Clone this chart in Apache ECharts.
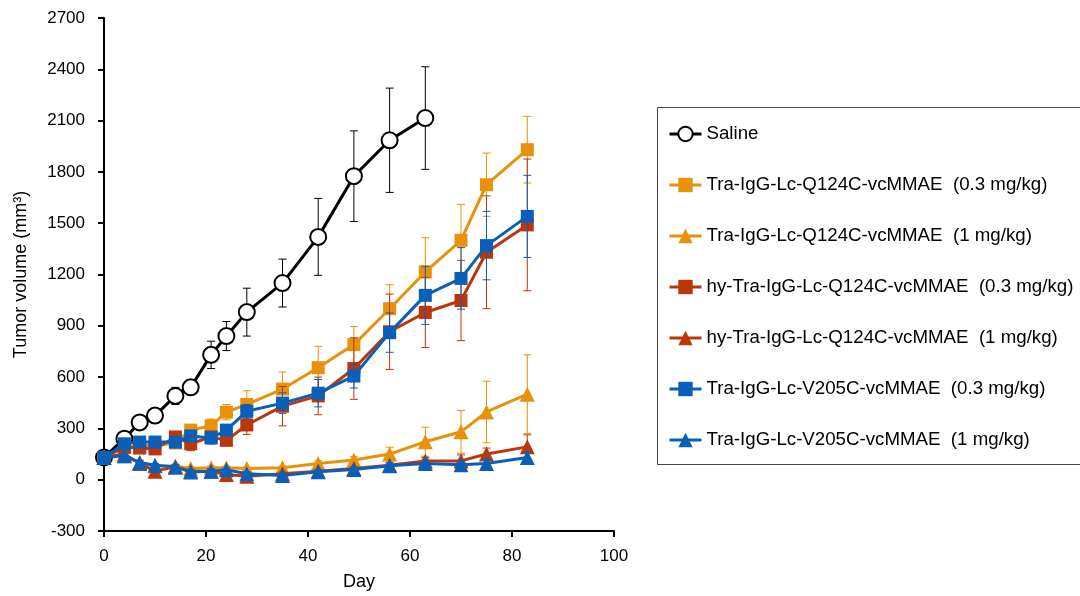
<!DOCTYPE html>
<html>
<head>
<meta charset="utf-8">
<script src="https://cdn.jsdelivr.net/npm/echarts@6/dist/echarts.min.js"></script>
<style>
  html, body { margin: 0; padding: 0; background: #fff; }
  #chart { width: 1080px; height: 596px; }
</style>
</head>
<body>
<div id="chart"></div>
<script>
// Measurement days
var days = [0, 4, 7, 10, 14, 17, 21, 24, 28, 35, 42, 49, 56, 63, 70, 75, 83];

// Mean tumor volume (mm³) and error per group
var saline      = [130, 240, 335, 375, 490, 540, 730, 840, 980, 1150, 1420, 1775, 1985, 2115];
var salineErr   = [15, 25, 20, 20, 50, 40, 80, 85, 140, 140, 225, 265, 305, 300];

var q124c03     = [130, 190, 200, 200, 215, 290, 315, 395, 440, 530, 655, 790, 1000, 1215, 1400, 1725, 1930];
var q124c03Err  = [10, 20, 20, 20, 30, 30, 40, 45, 80, 100, 125, 105, 140, 200, 210, 185, 195];

var q124c1      = [130, 140, 100, 80, 80, 65, 70, 70, 65, 70, 95, 115, 150, 222, 280, 396, 500];
var q124c1Err   = [10, 15, 15, 10, 10, 10, 10, 10, 10, 10, 15, 20, 40, 85, 125, 180, 230];

var hy03        = [130, 190, 185, 180, 250, 210, 250, 230, 320, 430, 490, 650, 865, 978, 1048, 1330, 1490];
var hy03Err     = [10, 25, 25, 25, 30, 40, 30, 30, 55, 115, 110, 180, 220, 205, 235, 330, 385];

var hy1         = [130, 150, 95, 50, 75, 50, 50, 30, 20, 35, 50, 65, 85, 110, 110, 150, 192];
var hy1Err      = [10, 15, 15, 20, 15, 10, 15, 15, 15, 10, 10, 10, 15, 20, 35, 35, 70];

var v205c03     = [130, 210, 220, 220, 220, 256, 244, 290, 400, 448, 506, 606, 860, 1078, 1177, 1369, 1540];
var v205c03Err  = [10, 20, 20, 20, 25, 30, 35, 30, 40, 60, 80, 70, 115, 170, 180, 200, 240];

var v205c1      = [130, 140, 100, 85, 75, 45, 50, 58, 35, 25, 47, 60, 82, 95, 88, 95, 130];
var v205c1Err   = [10, 10, 10, 10, 10, 10, 10, 10, 10, 10, 10, 10, 15, 25, 25, 25, 30];

var yTicks = { min: -300, max: 2700, interval: 300 };
var xTicks = { min: 0, max: 100, interval: 20 };

var ORANGE = '#E8910A';
var RED = '#BC360C';
var BLUE = '#0A60B8';
var FONT = 'Liberation Sans, Arial, sans-serif';

var groups = [
  { name: 'Saline', y: saline, err: salineErr, color: '#000', symbol: 'circle', size: 16, fill: '#fff' },
  { name: 'Tra-IgG-Lc-Q124C-vcMMAE  (0.3 mg/kg)', y: q124c03, err: q124c03Err, color: ORANGE, symbol: 'rect', size: 13 },
  { name: 'Tra-IgG-Lc-Q124C-vcMMAE  (1 mg/kg)', y: q124c1, err: q124c1Err, color: ORANGE, symbol: 'triangle', size: 15 },
  { name: 'hy-Tra-IgG-Lc-Q124C-vcMMAE  (0.3 mg/kg)', y: hy03, err: hy03Err, color: RED, symbol: 'rect', size: 13 },
  { name: 'hy-Tra-IgG-Lc-Q124C-vcMMAE  (1 mg/kg)', y: hy1, err: hy1Err, color: RED, symbol: 'triangle', size: 15 },
  { name: 'Tra-IgG-Lc-V205C-vcMMAE  (0.3 mg/kg)', y: v205c03, err: v205c03Err, color: BLUE, symbol: 'rect', size: 13 },
  { name: 'Tra-IgG-Lc-V205C-vcMMAE  (1 mg/kg)', y: v205c1, err: v205c1Err, color: BLUE, symbol: 'triangle', size: 15 }
];

// Vertical error bar with caps at mean ± error
function errorBarRenderer(color) {
  return function (params, api) {
    var x = api.value(0), y = api.value(1), e = api.value(2);
    var top = api.coord([x, y + e]);
    var bot = api.coord([x, y - e]);
    var cap = 4;
    var style = { stroke: color, lineWidth: 1 };
    return {
      type: 'group',
      children: [
        { type: 'line', shape: { x1: top[0], y1: top[1], x2: bot[0], y2: bot[1] }, style: style },
        { type: 'line', shape: { x1: top[0] - cap, y1: top[1], x2: top[0] + cap, y2: top[1] }, style: style },
        { type: 'line', shape: { x1: bot[0] - cap, y1: bot[1], x2: bot[0] + cap, y2: bot[1] }, style: style }
      ]
    };
  };
}

var series = [];
groups.forEach(function (g, i) {
  var pts = g.y.map(function (v, k) { return [days[k], v]; });
  var errPts = g.y.map(function (v, k) { return [days[k], v, g.err[k]]; });
  series.push({
    type: 'custom',
    name: g.name + ' err',
    renderItem: errorBarRenderer(g.color),
    data: errPts,
    z: 2 + i * 2,
    silent: true
  });
  series.push({
    type: 'line',
    name: g.name,
    data: pts,
    symbol: g.symbol,
    symbolSize: g.size,
    showAllSymbol: true,
    lineStyle: { color: g.color, width: 3 },
    itemStyle: g.fill
      ? { color: g.fill, borderColor: g.color, borderWidth: 2 }
      : { color: g.color, borderWidth: 0 },
    z: 3 + i * 2,
    animation: false
  });
});

var chart = echarts.init(document.getElementById('chart'), null, { renderer: 'canvas' });
chart.setOption({
  animation: false,
  backgroundColor: '#fff',
  grid: { left: 104, right: 466, top: 18, bottom: 63 },
  xAxis: {
    type: 'value',
    min: xTicks.min, max: xTicks.max, interval: xTicks.interval,
    name: 'Day', nameLocation: 'middle', nameGap: 42,
    nameTextStyle: { color: '#000', fontSize: 18, fontFamily: FONT },
    axisLine: { onZero: false, lineStyle: { color: '#000', width: 2 } },
    axisTick: { show: true, inside: false, length: 6, lineStyle: { color: '#000', width: 2 } },
    axisLabel: { color: '#000', fontSize: 17, fontFamily: FONT, margin: 17, formatter: function (v) { return String(v); } },
    splitLine: { show: false }
  },
  yAxis: {
    type: 'value',
    min: yTicks.min, max: yTicks.max, interval: yTicks.interval,
    name: 'Tumor volume (mm³)', nameLocation: 'middle', nameGap: 74, nameRotate: 90,
    nameTextStyle: { color: '#000', fontSize: 18, fontFamily: FONT },
    axisLine: { onZero: false, lineStyle: { color: '#000', width: 2 } },
    axisTick: { show: true, inside: false, length: 6, lineStyle: { color: '#000', width: 2 } },
    axisLabel: { color: '#000', fontSize: 17, fontFamily: FONT, margin: 19, formatter: function (v) { return String(v); } },
    splitLine: { show: false }
  },
  legend: {
    orient: 'vertical',
    left: 668, top: 123,
    itemWidth: 32, itemHeight: 18, itemGap: 29,
    padding: 0,
    data: groups.map(function (g) { return g.name; }),
    lineStyle: { width: 3 },
    textStyle: { color: '#000', fontSize: 18.7, fontFamily: FONT, lineHeight: 22 },
    selectedMode: false
  },
  graphic: [
    {
      type: 'rect',
      shape: { x: 657.5, y: 107.5, width: 440, height: 357 },
      style: { fill: 'none', stroke: '#444', lineWidth: 1 },
      silent: true
    }
  ],
  series: series
});
</script>
</body>
</html>
